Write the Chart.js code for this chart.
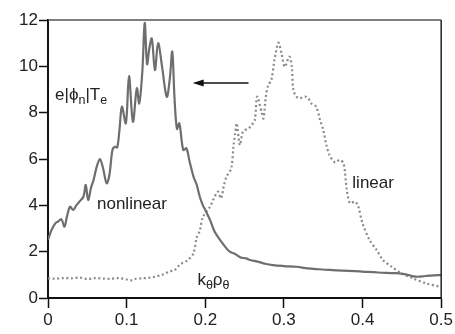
<!DOCTYPE html>
<html>
<head>
<meta charset="utf-8">
<script src="https://cdn.jsdelivr.net/npm/chart.js@4.4.1/dist/chart.umd.min.js"></script>
<style>
html,body{margin:0;padding:0;background:#fff;}
#wrap{width:455px;height:334px;position:relative;}
</style>
</head>
<body>
<div id="wrap"><canvas id="c" width="455" height="334"></canvas></div>
<script>
// k_theta rho_theta values for the nonlinear curve
const nonlinearX = [0.000,0.004,0.007,0.010,0.013,0.017,0.021,0.024,0.028,0.032,0.036,0.040,0.045,0.048,0.051,0.055,0.058,0.062,0.066,0.070,0.0746,0.078,0.082,0.085,0.088,0.091,0.094,0.099,0.103,0.108,0.113,0.116,0.120,0.123,0.126,0.129,0.132,0.136,0.140,0.145,0.151,0.155,0.158,0.161,0.164,0.167,0.172,0.176,0.180,0.185,0.189,0.193,0.197,0.200,0.206,0.212,0.219,0.227,0.231,0.238,0.245,0.252,0.257,0.267,0.276,0.286,0.300,0.316,0.330,0.345,0.358,0.375,0.390,0.400,0.420,0.443,0.455,0.468,0.480,0.490,0.500];
const nonlinearY = [2.5,2.9,3.1,3.25,3.3,3.4,3.08,3.5,3.94,3.8,4.0,4.16,4.37,4.88,4.23,4.8,5.1,5.67,6.0,5.6,4.95,5.3,6.4,6.53,6.5,7.3,8.26,7.54,9.58,7.61,9.05,8.4,9.8,11.88,10.1,10.8,11.2,9.84,11.0,10.0,8.69,9.5,10.63,8.55,7.3,7.54,6.39,6.46,5.9,5.24,4.9,4.37,4.0,3.8,3.37,2.86,2.5,2.14,2.0,1.9,1.75,1.71,1.64,1.57,1.48,1.42,1.38,1.35,1.28,1.24,1.21,1.18,1.16,1.14,1.1,1.07,1.02,0.92,0.95,0.98,0.99];

// k_theta rho_theta values for the linear curve
const linearX = [0.000,0.010,0.020,0.030,0.040,0.050,0.060,0.070,0.080,0.090,0.100,0.105,0.110,0.120,0.130,0.136,0.145,0.155,0.161,0.168,0.178,0.185,0.189,0.193,0.197,0.206,0.211,0.216,0.220,0.224,0.227,0.233,0.236,0.238,0.240,0.244,0.248,0.255,0.259,0.263,0.266,0.272,0.274,0.277,0.280,0.284,0.288,0.293,0.297,0.301,0.307,0.310,0.312,0.316,0.320,0.327,0.331,0.335,0.341,0.346,0.350,0.354,0.358,0.365,0.371,0.376,0.380,0.384,0.390,0.394,0.400,0.409,0.418,0.426,0.437,0.449,0.464,0.481,0.498];
const linearY = [0.85,0.83,0.86,0.85,0.88,0.82,0.86,0.84,0.83,0.86,0.80,0.76,0.82,0.85,0.88,0.92,1.0,1.15,1.2,1.45,1.64,1.93,2.6,2.9,3.5,3.94,4.3,4.59,4.3,4.9,5.24,5.6,6.6,7.1,7.54,6.6,7.18,7.32,7.47,7.68,8.69,7.97,7.75,8.69,9.19,9.4,10.27,11.02,10.56,9.98,10.42,9.98,8.98,8.69,8.62,8.69,8.62,8.4,8.26,7.68,7.25,6.6,6.17,5.85,5.96,5.8,4.66,4.09,4.16,4.01,3.22,2.5,2.07,1.64,1.35,1.07,0.85,0.63,0.49];

const xTicks = [0, 0.1, 0.2, 0.3, 0.4, 0.5];
const yTicks = [0, 2, 4, 6, 8, 10, 12];

const FONT = '"Liberation Sans", Arial, Helvetica, sans-serif';

const toPts = (xs, ys) => xs.map((x, i) => ({x: x, y: ys[i]}));

function drawSub(ctx, parts, x, y) {
  let cx = x;
  parts.forEach(([t, sub]) => {
    ctx.font = (sub ? '12.5px ' : '17px ') + FONT;
    ctx.fillText(t, cx, sub ? y + 4 : y);
    cx += ctx.measureText(t).width;
  });
}

const annot = {
  id: 'annot',
  afterDraw(chart) {
    const {ctx, chartArea: a, scales: {x, y}} = chart;
    ctx.save();
    ctx.lineWidth = 1.5;
    ctx.strokeStyle = '#555';
    ctx.beginPath(); ctx.moveTo(a.left, a.top); ctx.lineTo(a.right, a.top); ctx.stroke();
    ctx.strokeStyle = '#222';
    ctx.beginPath(); ctx.moveTo(a.right, a.top); ctx.lineTo(a.right, a.bottom); ctx.stroke();

    ctx.fillStyle = '#222';
    ctx.textBaseline = 'alphabetic';
    ctx.textAlign = 'left';
    drawSub(ctx, [['e|ϕ', false], ['n', true], ['|T', false], ['e', true]], x.getPixelForValue(0.009), y.getPixelForValue(8.55));
    drawSub(ctx, [['nonlinear', false]], x.getPixelForValue(0.0623), y.getPixelForValue(3.85));
    drawSub(ctx, [['linear', false]], x.getPixelForValue(0.387), y.getPixelForValue(4.75));
    drawSub(ctx, [['k', false], ['θ', true], ['ρ', false], ['θ', true]], x.getPixelForValue(0.19), y.getPixelForValue(0.55));

    const ay = y.getPixelForValue(9.28);
    const x1 = x.getPixelForValue(0.255), x0 = x.getPixelForValue(0.184);
    ctx.strokeStyle = '#111';
    ctx.lineWidth = 1.5;
    ctx.beginPath(); ctx.moveTo(x1, ay); ctx.lineTo(x0 + 8, ay); ctx.stroke();
    ctx.fillStyle = '#111';
    ctx.beginPath(); ctx.moveTo(x0, ay); ctx.lineTo(x0 + 11, ay - 3.5); ctx.lineTo(x0 + 11, ay + 3.5); ctx.closePath(); ctx.fill();
    ctx.restore();
  }
};

new Chart(document.getElementById('c'), {
  type: 'line',
  data: {
    datasets: [
      {
        label: 'nonlinear',
        data: toPts(nonlinearX, nonlinearY),
        borderColor: '#6e6e6e',
        borderWidth: 2.2,
        pointRadius: 0,
        tension: 0.35,
        fill: false
      },
      {
        label: 'linear',
        data: toPts(linearX, linearY),
        borderColor: '#8a8a8a',
        borderWidth: 2.2,
        borderDash: [2, 2.6],
        pointRadius: 0,
        tension: 0.3,
        fill: false
      }
    ]
  },
  options: {
    responsive: false,
    animation: false,
    devicePixelRatio: 1,
    layout: {padding: {top: 20, right: 13, left: 0, bottom: 0}},
    plugins: {legend: {display: false}, tooltip: {enabled: false}},
    scales: {
      x: {
        type: 'linear',
        min: 0, max: 0.5,
        afterFit(s) { s.height = 36; },
        afterBuildTicks(s) { s.ticks = xTicks.map(v => ({value: v})); },
        ticks: {
          color: '#222',
          font: {family: FONT, size: 17},
          padding: 2,
          maxRotation: 0,
          callback: v => String(Math.round(v * 10) / 10)
        },
        grid: {drawOnChartArea: false, drawTicks: true, tickLength: 10, tickColor: '#111', tickWidth: 1.5},
        border: {color: '#111', width: 2}
      },
      y: {
        min: 0, max: 12,
        afterFit(s) { s.width = 48; },
        afterBuildTicks(s) { s.ticks = yTicks.map(v => ({value: v})); },
        ticks: {
          color: '#222',
          font: {family: FONT, size: 17},
          padding: 1
        },
        grid: {drawOnChartArea: false, drawTicks: true, tickLength: 9, tickColor: '#111', tickWidth: 1.5},
        border: {color: '#111', width: 2}
      }
    }
  },
  plugins: [annot]
});
</script>
</body>
</html>
